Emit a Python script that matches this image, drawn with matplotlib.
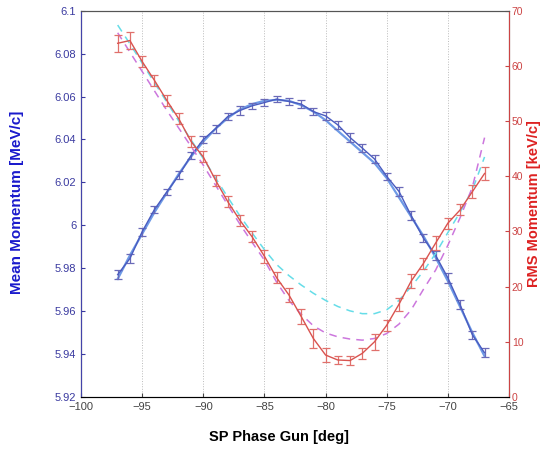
import numpy as np
import matplotlib.pyplot as plt
from matplotlib.ticker import FuncFormatter

plt.rcParams['font.family'] = ['Liberation Sans', 'DejaVu Sans']

# phase scan points
phase = [-97, -96, -95, -94, -93, -92, -91, -90, -89, -88, -87, -86, -85, -84, -83, -82,
         -81, -80, -79, -78, -77, -76, -75, -74, -73, -72, -71, -70, -69, -68, -67]

# mean momentum (MeV/c) measured + error
mean_p = [5.977, 5.9845, 5.997, 6.0073, 6.0154, 6.0233, 6.0325, 6.040, 6.045, 6.0507,
          6.0535, 6.0557, 6.0572, 6.0588, 6.0577, 6.0565, 6.053, 6.051, 6.0468, 6.0409,
          6.036, 6.0309, 6.0228, 6.0158, 6.0045, 5.994, 5.986, 5.9755, 5.963, 5.949, 5.9406]
mean_err = [0.0022, 0.002, 0.0018, 0.0015, 0.0015, 0.0018, 0.0018, 0.0015, 0.0018, 0.0015,
            0.002, 0.0015, 0.0015, 0.0015, 0.0015, 0.002, 0.0015, 0.002, 0.002, 0.002,
            0.002, 0.002, 0.0018, 0.002, 0.002, 0.002, 0.0022, 0.0025, 0.002, 0.0018, 0.002]
# smooth fit of mean momentum
mean_fit = [5.975, 5.986, 5.996, 6.006, 6.015, 6.024, 6.032, 6.039, 6.045, 6.050, 6.054,
            6.0565, 6.058, 6.0585, 6.058, 6.056, 6.053, 6.049, 6.044, 6.039, 6.034, 6.029,
            6.022, 6.013, 6.004, 5.995, 5.985, 5.974, 5.962, 5.950, 5.939]

# rms momentum (keV/c) measured + error
rms_p = [64.1, 64.6, 60.8, 57.4, 53.8, 50.4, 46.3, 43.5, 39.3, 35.4, 32.0, 29.0, 25.5,
         21.6, 18.5, 14.6, 10.6, 7.6, 6.7, 6.6, 7.9, 10.0, 13.0, 16.8, 21.0, 24.2, 27.9,
         31.5, 33.9, 37.2, 40.5]
rms_err = [1.5, 1.6, 1.0, 1.0, 1.0, 1.0, 1.0, 1.0, 1.0, 1.0, 1.0, 1.0, 1.2, 1.0, 1.2,
           1.4, 1.8, 1.2, 0.8, 0.8, 1.0, 1.4, 1.0, 1.2, 1.2, 1.0, 1.2, 1.0, 1.0, 1.2, 1.2]
# simulations (dashed)
rms_sim_a = [67.4, 64.0, 60.5, 57.0, 53.5, 50.0, 46.6, 43.2, 39.7, 36.2, 32.8, 29.7, 26.7,
             24.0, 22.0, 20.3, 18.8, 17.5, 16.4, 15.6, 15.1, 15.1, 15.8, 17.5, 20.0, 22.8,
             26.0, 29.8, 33.5, 37.5, 43.5]
rms_sim_b = [66.0, 62.5, 59.0, 55.5, 52.0, 48.7, 45.4, 42.0, 38.4, 34.8, 31.3, 28.0, 24.8,
             20.8, 17.5, 15.0, 12.9, 11.6, 10.9, 10.5, 10.3, 10.6, 11.5, 13.2, 15.8, 19.5,
             23.0, 27.5, 32.5, 38.0, 47.0]

blue_dark = '#4a5cc0'
blue_light = '#6e9ae6'
red = '#d9534f'
red_bar = '#e0706c'

fig = plt.figure(figsize=(5.41, 4.54), dpi=100)
ax = fig.add_axes([0.1497, 0.1256, 0.7912, 0.8508])
ax2 = ax.twinx()

ax.plot(phase, mean_fit, color=blue_light, lw=1.6, zorder=2)
ax.errorbar(phase, mean_p, yerr=mean_err, color=blue_dark, ecolor='#6a6ab8',
            lw=1.0, elinewidth=0.9, capsize=3, capthick=0.9, zorder=3)

ax2.plot(phase, rms_sim_a, color='#66dde8', ls=(0, (5, 4)), lw=1.1)
ax2.plot(phase, rms_sim_b, color='#cc77dd', ls=(0, (5, 4)), lw=1.1)
ax2.errorbar(phase, rms_p, yerr=rms_err, color=red, ecolor=red_bar,
             lw=1.0, elinewidth=0.9, capsize=3, capthick=0.9)

ax.set_xlim(-100, -65)
ax.set_ylim(5.92, 6.1)
ax2.set_ylim(0, 70)
ax.set_xticks(np.arange(-100, -64, 5))
ax.set_yticks(np.arange(5.92, 6.101, 0.02))
ax2.set_yticks(np.arange(0, 71, 10))
ax.yaxis.set_major_formatter(FuncFormatter(lambda v, p: '%g' % round(v, 2)))
ax.xaxis.set_major_formatter(FuncFormatter(lambda v, p: '\u2212%d' % abs(v) if v < 0 else '%d' % v))

for xv in range(-95, -69, 5):
    ax.axvline(xv, color='#bbbbbb', ls=':', lw=0.7, zorder=0)

ax.tick_params(axis='both', direction='in', labelsize=8, length=3)
ax.tick_params(axis='x', colors='#444444')
ax.tick_params(axis='y', colors='#3a3aa0')
ax2.tick_params(axis='y', direction='in', labelsize=7.5, length=3, pad=2, colors='#cc4444')
for sp in ['top', 'bottom']:
    ax.spines[sp].set_color('#555555')
ax2.spines['left'].set_color('#4444aa')
ax2.spines['right'].set_color('#cc4444')
ax2.spines['top'].set_color('#555555')

# axis titles placed by hand (MATLAB-like layout)
fig.text(17 / 541, 1 - 202 / 454, 'Mean Momentum [MeV/c]', rotation=90, ha='center', va='center',
         color='#1a1acc', fontsize=11, fontweight='bold')
fig.text(534 / 541, 1 - 204 / 454, 'RMS Momentum [keV/c]', rotation=90, ha='center', va='center',
         color='#dd2222', fontsize=10.5, fontweight='bold')
fig.text(279 / 541, 1 - 437 / 454, 'SP Phase Gun [deg]', ha='center', va='center',
         fontsize=10.5, fontweight='bold')

fig.savefig('out.png', dpi=100)
